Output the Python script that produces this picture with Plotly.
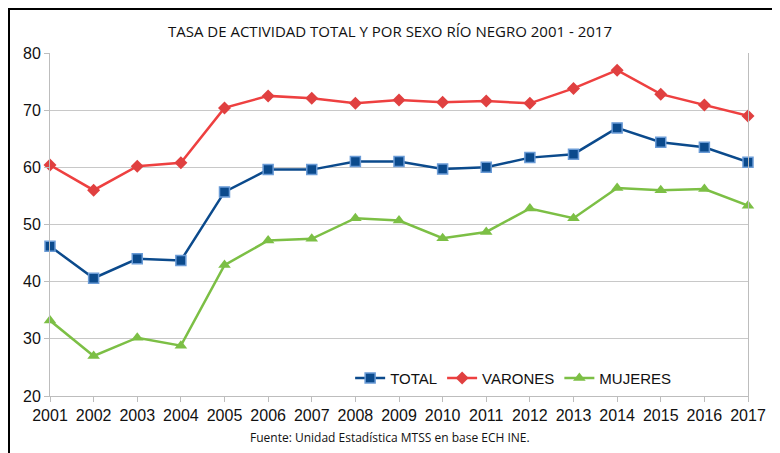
import plotly.graph_objects as go

years = list(range(2001, 2018))
total = [46.2, 40.6, 44.0, 43.7, 55.7, 59.6, 59.6, 61.0, 61.0, 59.7, 60.0,
         61.7, 62.3, 66.9, 64.4, 63.5, 60.9]
varones = [60.4, 56.0, 60.2, 60.8, 70.4, 72.5, 72.1, 71.2, 71.8, 71.4, 71.6,
           71.2, 73.8, 77.0, 72.8, 70.9, 69.0]
mujeres = [33.2, 27.0, 30.2, 28.8, 42.9, 47.2, 47.5, 51.1, 50.7, 47.6, 48.7,
           52.8, 51.1, 56.4, 56.0, 56.2, 53.3]

fig = go.Figure()
fig.add_trace(go.Scatter(x=years, y=total, name="TOTAL", mode="lines+markers",
                         line=dict(color="#0b4a8c", width=2.5),
                         marker=dict(symbol="square", size=10, color="#0b4a8c",
                                     line=dict(color="#6a9bd6", width=1.5)),
                         cliponaxis=False))
fig.add_trace(go.Scatter(x=years, y=varones, name="VARONES", mode="lines+markers",
                         line=dict(color="#ee4040", width=2.5),
                         marker=dict(symbol="diamond", size=10, color="#e04040"),
                         cliponaxis=False))
fig.add_trace(go.Scatter(x=years, y=mujeres, name="MUJERES", mode="lines+markers",
                         line=dict(color="#7cbf45", width=2.5),
                         marker=dict(symbol="triangle-up", size=11, color="#7cbf45"),
                         cliponaxis=False))

fig.update_xaxes(range=[2001, 2017], tickmode="linear", dtick=1, showgrid=False,
                 showline=True, linecolor="#bdbdbd", ticks="outside", ticklen=5,
                 tickcolor="#bdbdbd", tickfont=dict(family="Liberation Sans", size=16, color="#111"),
                 zeroline=False)
fig.update_yaxes(range=[20, 80], dtick=10, showgrid=True, gridcolor="#c8c8c8",
                 showline=True, mirror=True, linecolor="#bdbdbd", ticks="outside",
                 ticklen=5, tickcolor="#bdbdbd", zeroline=False,
                 tickfont=dict(family="Liberation Sans", size=16, color="#111"))

# the page body adds an 8px offset, so the margins are shifted to compensate
W, H = 780, 453
L, T = 42, 45
PW, PH = 698, 343
fig.update_layout(
    width=W, height=H,
    margin=dict(l=L, r=W - L - PW, t=T, b=H - T - PH),
    paper_bgcolor="white", plot_bgcolor="white",
    title=dict(text="TASA DE ACTIVIDAD TOTAL Y POR SEXO RÍO NEGRO 2001 - 2017",
               x=(390 - 8) / W, xanchor="center", y=(H - 24) / H, yanchor="middle",
               font=dict(family="Open Sans", size=15, color="#111")),
    legend=dict(orientation="h", x=0.43, xanchor="left", y=0.052, yanchor="middle",
                bgcolor="rgba(255,255,255,0)", itemwidth=30,
                font=dict(family="Liberation Sans", size=15, color="#111")),
    annotations=[dict(text="Fuente: Unidad Estadística MTSS en base ECH INE.",
                      xref="paper", yref="paper", x=0.487, y=-0.12,
                      xanchor="center", yanchor="middle", showarrow=False,
                      font=dict(family="Open Sans", size=12, color="#111"))],
    shapes=[dict(type="rect", xref="paper", yref="paper",
                 x0=(1 - L) / PW, x1=(767 - L) / PW,
                 y0=-0.3, y1=(T + PH - 1) / PH,
                 line=dict(color="black", width=2), fillcolor="rgba(0,0,0,0)")],
)

fig.write_html("out.html")
